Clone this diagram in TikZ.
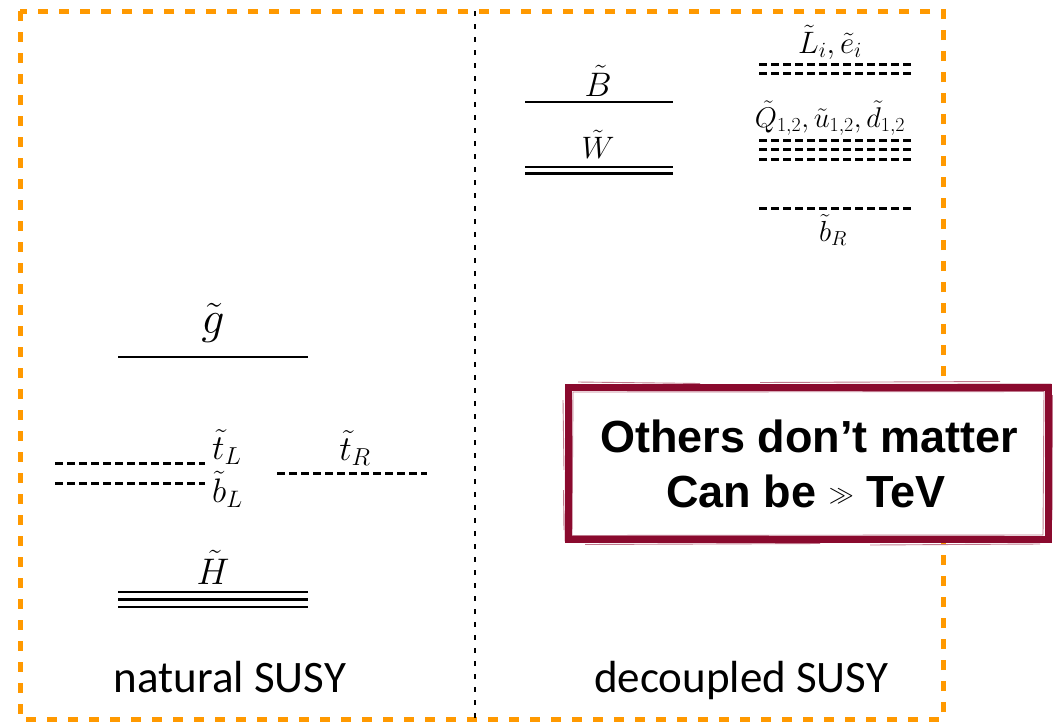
\RequirePackage{fix-cm}
\documentclass[tikz,border=0pt]{standalone}
\usepackage{fontspec}
\setsansfont{Carlito}
\newfontfamily\boxfont{Liberation Sans}
\definecolor{frameorange}{HTML}{FF9900}
\definecolor{boxred}{HTML}{8A0A2E}
\begin{document}
\begin{tikzpicture}[x=1pt,y=-1pt,
  lvl/.style={line width=2.8pt},
  dlvl/.style={line width=3pt, dash pattern=on 7.5pt off 4.5pt},
  lab/.style={inner sep=0pt, anchor=base},
  bottomlab/.style={inner sep=0pt, anchor=base, font=\sffamily\fontsize{45}{50}\selectfont},
  boxtext/.style={inner sep=0pt, anchor=base, font=\boxfont\bfseries\fontsize{45}{50}\selectfont},
  rough/.style={boxred, line width=0.9pt, opacity=0.55}]
\useasboundingbox (0,0) rectangle (1053,721);
% outer frame
\draw[frameorange, line width=5pt, dash pattern=on 10pt off 11pt] (20,11) rectangle (943,719);
% divider
\coordinate (dtop) at (475,11);
\coordinate (dbot) at (475,719);
\draw[line width=2.5pt, dash pattern=on 5pt off 8pt] (dtop) -- (dbot);
% ---- natural SUSY ----
% gluino
\draw[lvl] (118,357) -- (308,357);
\node[lab, font=\fontsize{46}{48}\selectfont] (gl) at (213,333) {$\tilde g$};
% tL bL
\draw[dlvl] (55,463) -- (205,463);
\draw[dlvl] (55,483) -- (205,483);
\node[lab, anchor=base west, font=\fontsize{35}{38}\selectfont] (tL) at (212,459) {$\tilde t_L$};
\node[lab, anchor=base west, font=\fontsize{34}{38}\selectfont] (bL) at (212,502) {$\tilde b_L$};
% tR
\draw[dlvl] (277,473) -- (427,473);
\node[lab, font=\fontsize{35}{38}\selectfont] (tR) at (355,460) {$\tilde t_R$};
% Higgsino
\draw[lvl] (118,592) -- (308,592);
\draw[lvl] (118,599.5) -- (308,599.5);
\draw[lvl] (118,607) -- (308,607);
\node[lab, font=\fontsize{37}{40}\selectfont] (hig) at (213,584) {$\tilde H$};
\node[bottomlab] (nat) at (230,692) {natural SUSY};
% ---- decoupled SUSY ----
\draw[lvl] (525,102) -- (673,102);
\node[lab, font=\fontsize{34}{36}\selectfont] (bino) at (598,96) {$\tilde B$};
\draw[lvl] (525,167) -- (673,167);
\draw[lvl] (525,173.5) -- (673,173.5);
\node[lab, font=\fontsize{31}{34}\selectfont] (wino) at (598,158) {$\tilde W$};
% sleptons
\draw[dlvl] (759,64) -- (911,64);
\draw[dlvl] (759,73) -- (911,73);
\node[lab, font=\fontsize{31}{34}\selectfont] (slep) at (830,53) {$\tilde L_i, \tilde e_i$};
% first two generation squarks
\draw[dlvl] (759,140) -- (911,140);
\draw[dlvl] (759,149.5) -- (911,149.5);
\draw[dlvl] (759,159) -- (911,159);
\node[lab, font=\fontsize{28.5}{30}\selectfont] (sq) at (830,127) {$\tilde Q_{1,2}, \tilde u_{1,2}, \tilde d_{1,2}$};
% bR
\draw[dlvl] (759,208) -- (911,208);
\node[lab, font=\fontsize{29}{32}\selectfont] (bR) at (833,241) {$\tilde b_R$};
\node[bottomlab] (dec) at (741,692) {decoupled SUSY};
% ---- red box ----
\node[fill=white, draw=boxred, line width=7pt, minimum width=480pt, minimum height=152pt, inner sep=0pt] (note) at (808.5,463) {};
\draw[rough] (566,385) -- (1051,384) -- (1050,542) -- (565,541) -- cycle;
\draw[rough] (573,392) -- (1044,391.5) -- (1043,535) -- (572,535.5) -- cycle;
\draw[rough] (578,382) -- (700,383.5) (760,382.5) -- (1000,381.5);
\draw[rough] (585,544.5) -- (820,543.5) (870,545) -- (1040,544);
\draw[rough] (563,400) -- (564,470) (563.5,490) -- (564,530);
\draw[rough] (1052.5,395) -- (1052,520);
\node[boxtext] (l1) at (809,452) {Others don’t matter};
\node[boxtext] (l2) at (806,507) {Can be \raisebox{5pt}{\fontsize{25}{26}\selectfont$\gg$} TeV};
\end{tikzpicture}
\end{document}
